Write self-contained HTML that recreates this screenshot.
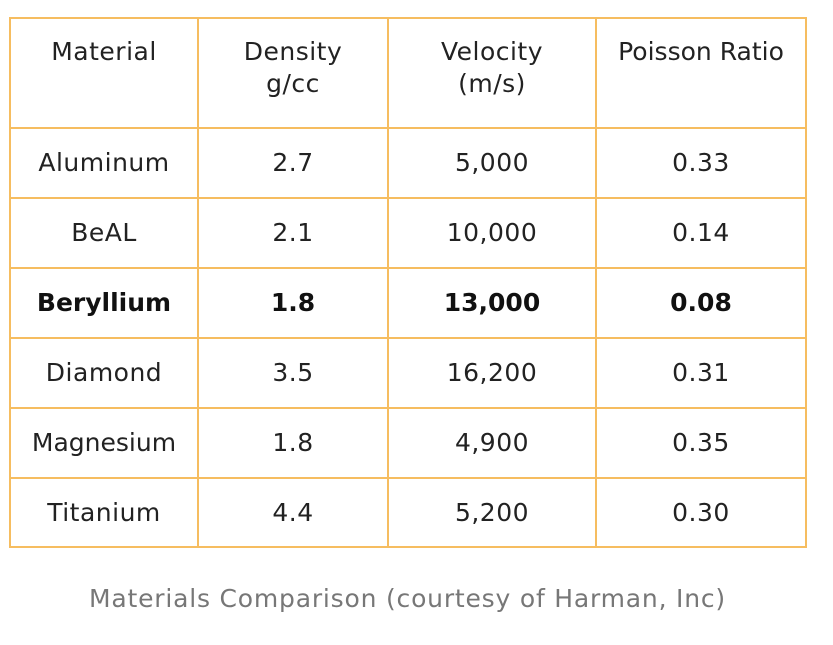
<!DOCTYPE html><html><head><style>
body{margin:0;width:833px;height:645px;background:#fff;position:relative;font-family:"DejaVu Sans","Liberation Sans",sans-serif;color:#222;overflow:hidden}
.h{position:absolute;left:9px;width:798px;height:2px;background:#f6bd60}
.v{position:absolute;top:17px;height:531px;width:2px;background:#f6bd60}
.t{position:absolute;text-align:center;font-size:25px;line-height:32px;letter-spacing:0.5px}
</style></head><body>
<div class="h" style="top:17px"></div><div class="h" style="top:127px"></div><div class="h" style="top:197px"></div><div class="h" style="top:267px"></div><div class="h" style="top:337px"></div><div class="h" style="top:407px"></div><div class="h" style="top:477px"></div><div class="h" style="top:546px"></div>
<div class="v" style="left:9px"></div><div class="v" style="left:197px"></div><div class="v" style="left:387px"></div><div class="v" style="left:595px"></div><div class="v" style="left:805px"></div>
<div class="t" style="left:10px;width:188px;top:36px">Material</div>
<div class="t" style="left:198px;width:190px;top:36px">Density<br>g/cc</div>
<div class="t" style="left:388px;width:208px;top:36px">Velocity<br>(m/s)</div>
<div class="t" style="left:596px;width:210px;top:36px;letter-spacing:0">Poisson Ratio</div>

<div class="t" style="left:10px;width:188px;top:147px">Aluminum</div><div class="t" style="left:198px;width:190px;top:147px">2.7</div><div class="t" style="left:388px;width:208px;top:147px">5,000</div><div class="t" style="left:596px;width:210px;top:147px">0.33</div>
<div class="t" style="left:10px;width:188px;top:217px">BeAL</div><div class="t" style="left:198px;width:190px;top:217px">2.1</div><div class="t" style="left:388px;width:208px;top:217px">10,000</div><div class="t" style="left:596px;width:210px;top:217px">0.14</div>
<div class="t" style="left:10px;width:188px;top:287px;font-weight:bold;color:#111;letter-spacing:0">Beryllium</div><div class="t" style="left:198px;width:190px;top:287px;font-weight:bold;color:#111;letter-spacing:0">1.8</div><div class="t" style="left:388px;width:208px;top:287px;font-weight:bold;color:#111;letter-spacing:0">13,000</div><div class="t" style="left:596px;width:210px;top:287px;font-weight:bold;color:#111;letter-spacing:0">0.08</div>
<div class="t" style="left:10px;width:188px;top:357px">Diamond</div><div class="t" style="left:198px;width:190px;top:357px">3.5</div><div class="t" style="left:388px;width:208px;top:357px">16,200</div><div class="t" style="left:596px;width:210px;top:357px">0.31</div>
<div class="t" style="left:10px;width:188px;top:427px;letter-spacing:0">Magnesium</div><div class="t" style="left:198px;width:190px;top:427px">1.8</div><div class="t" style="left:388px;width:208px;top:427px">4,900</div><div class="t" style="left:596px;width:210px;top:427px">0.35</div>
<div class="t" style="left:10px;width:188px;top:497px">Titanium</div><div class="t" style="left:198px;width:190px;top:497px">4.4</div><div class="t" style="left:388px;width:208px;top:497px">5,200</div><div class="t" style="left:596px;width:210px;top:497px">0.30</div>

<div class="t" style="left:0;width:815px;top:583px;color:#777;font-size:25px;letter-spacing:0.8px">Materials Comparison (courtesy of Harman, Inc)</div>
</body></html>
